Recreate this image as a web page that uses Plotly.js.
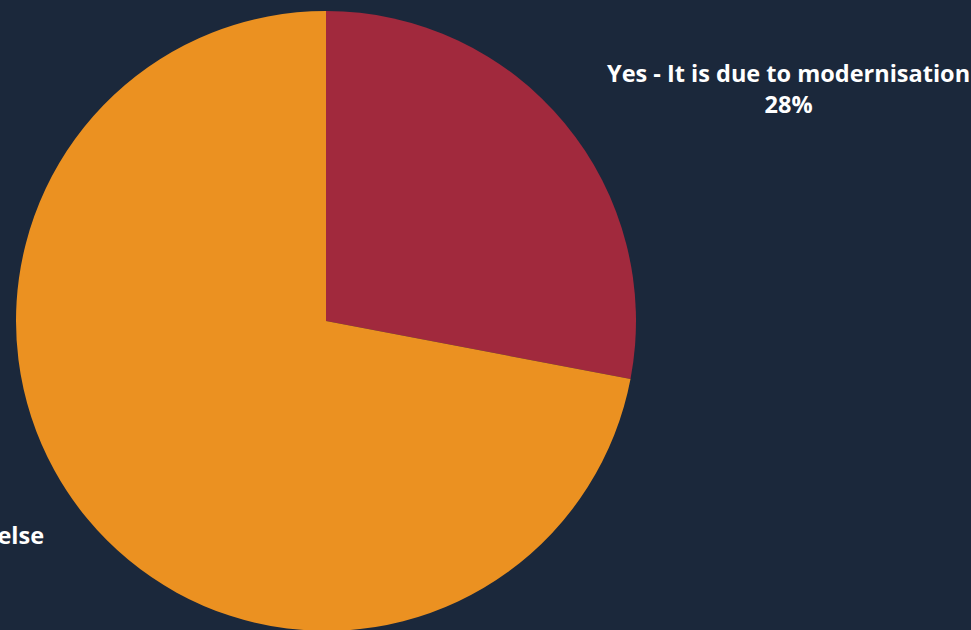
<!DOCTYPE html>
<html>
<head>
<meta charset="utf-8">
<script src="https://cdn.plot.ly/plotly-3.0.1.min.js"></script>
<style>
html,body{margin:0;padding:0;background:#1b283b;overflow:hidden;}
#chart{width:971px;height:632px;}
</style>
</head>
<body>
<div id="chart"></div>
<script>
const categories = ["Yes - It is due to modernisation", "No - It is due to something else"];
const values = [28, 72];
const colors = ["#a1293d", "#eb9121"];

const H = 632, W = 971;
const bg = "#1b283b";
const fontFam = "'Open Sans', Lato, sans-serif";

const trace = {
  type: "pie",
  labels: categories,
  values: values,
  sort: false,
  direction: "clockwise",
  rotation: 0,
  textinfo: "none",
  hoverinfo: "label+percent",
  marker: {colors: colors, line: {width: 0}},
  domain: {x: [16 / W, 636 / W], y: [(H - 631) / H, (H - 11) / H]},
  showlegend: false
};

const labelPos = [
  {x: 788, y: 89, xanchor: "center"},
  {x: 46, y: 550, xanchor: "right"}
];

const annotations = categories.map((c, i) => ({
  xref: "paper", yref: "paper",
  x: labelPos[i].x / W, y: (H - labelPos[i].y) / H,
  xanchor: labelPos[i].xanchor, yanchor: "middle",
  align: "center",
  showarrow: false,
  text: "<b>" + c + "</b><br><b>" + values[i] + "%</b>",
  font: {family: fontFam, size: 23.5, color: "#ffffff"}
}));

Plotly.newPlot("chart", [trace], {
  width: W, height: H,
  margin: {l: 0, r: 0, t: 0, b: 0},
  paper_bgcolor: bg, plot_bgcolor: bg,
  annotations: annotations
}, {displayModeBar: false, staticPlot: true});
</script>
</body>
</html>
